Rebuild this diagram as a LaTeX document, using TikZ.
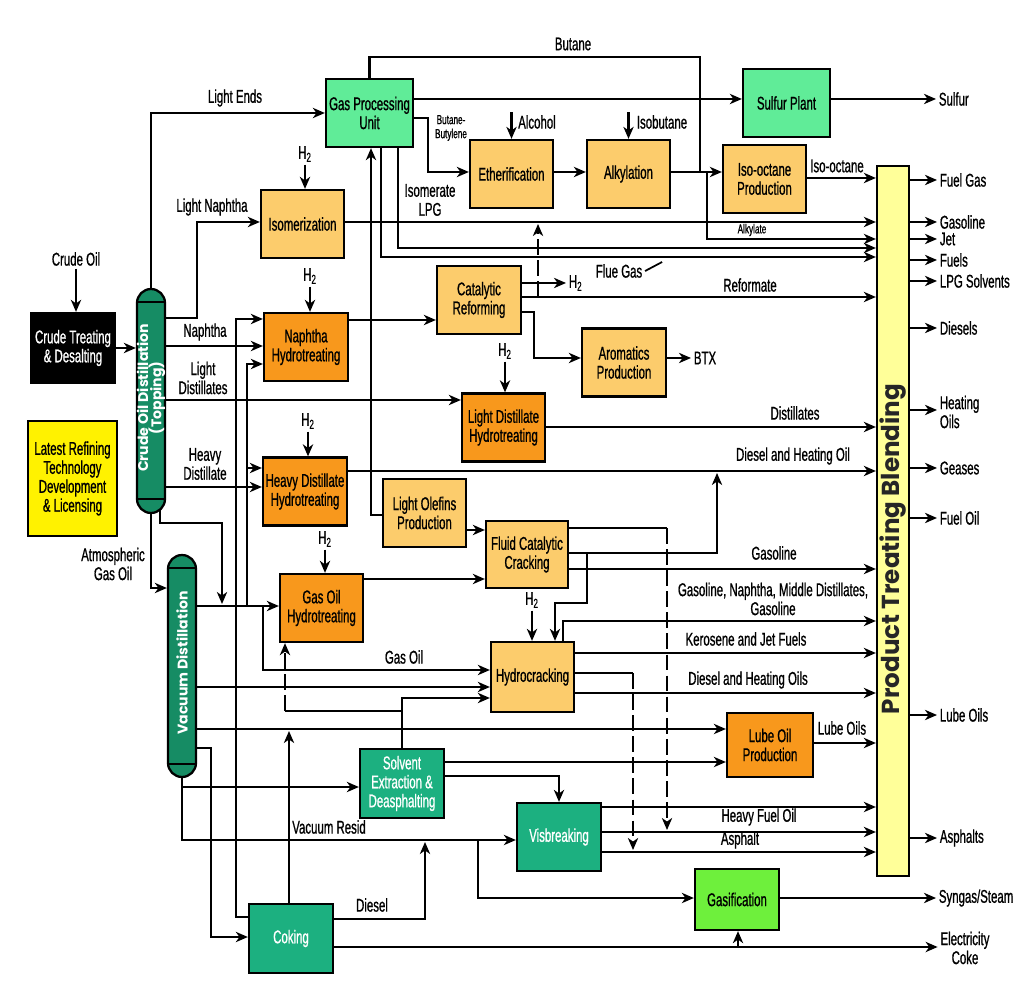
\documentclass[tikz,border=0pt]{standalone}
\usepackage{fontspec}
\setmainfont{Liberation Sans}[FakeStretch=0.62,FakeBold=0.8]
\newfontfamily\geofont{Poppins}
\usepackage{tikz}
\usetikzlibrary{arrows,arrows.meta,positioning}

\definecolor{gasgreen}{RGB}{96,236,152}
\definecolor{liteorange}{RGB}{252,204,108}
\definecolor{darkorange}{RGB}{248,152,28}
\definecolor{unitgreen}{RGB}{28,176,128}
\definecolor{colgreen}{RGB}{22,140,100}
\definecolor{gasifgreen}{RGB}{110,240,60}
\definecolor{blendyellow}{RGB}{255,255,153}

\tikzset{
	unit/.style={draw=black,line width=1.3pt,rectangle,minimum width=1.68cm,minimum height=1.36cm,inner sep=1pt,align=center,font=\fontsize{10.5}{10.8}\selectfont},
	liteunit/.style={unit,fill=liteorange},
	darkunit/.style={unit,fill=darkorange},
	gasunit/.style={unit,fill=gasgreen},
	greenunit/.style={unit,fill=unitgreen,text=white},
	column/.style={draw=black,line width=1.3pt,fill=colgreen,rounded corners=0.28cm,minimum width=0.56cm,inner sep=0pt},
	coltext/.style={rotate=90,text=white,align=center,font=\geofont\bfseries\fontsize{8}{7.5}\selectfont},
	lbl/.style={inner sep=1pt,align=center,font=\fontsize{10.5}{10.8}\selectfont},
	tinylbl/.style={inner sep=0pt,align=center,font=\fontsize{7.5}{8}\selectfont},
	outlbl/.style={lbl,anchor=west,align=left},
	flowdash/.style={dash pattern=on 9pt off 3pt}
}

\begin{document}
\begin{tikzpicture}[->,>={Stealth[length=6.8pt,width=5.8pt,inset=2pt]},line width=1.3pt,x=0.02cm,y=-0.02cm]
	\fill[white] (0,0) rectangle (1020,999);

	% columns and blending
	\node[column,minimum height=4.48cm]		(ccol)		at (151,401)		{};
	\node[column,minimum height=4.44cm]		(vcol)		at (182,666)		{};
	\node[draw=black,line width=1.3pt,fill=blendyellow,minimum width=0.64cm,minimum height=14.2cm,inner sep=0pt]	(ptb)	at (893,521)	{};
	\draw[-] (ccol.west |- 0,302) -- (ccol.east |- 0,302);
	\draw[-] (ccol.west |- 0,499) -- (ccol.east |- 0,499);
	\draw[-] (vcol.west |- 0,568) -- (vcol.east |- 0,568);
	\draw[-] (vcol.west |- 0,764) -- (vcol.east |- 0,764);
	\node[coltext]							(ccoltext)	at (151,398)		{Crude Oil Distillation\\(Topping)};
	\node[coltext]							(vcoltext)	at (182,663)		{Vacuum Distillation};
	\node[rotate=90,text=black!85,font=\geofont\bfseries\fontsize{14}{14}\selectfont]	(ptbtext)	at (893,549)	{Product Treating Blending};

	% process units
	\node[unit,fill=black,text=white,minimum height=1.40cm]		(crude)		at (73,348)		{Crude Treating\\\& Desalting};
	\node[unit,fill=yellow,minimum width=1.78cm,minimum height=2.30cm]	(lic)	at (72.5,478.5)	{Latest Refining\\Technology\\Development\\\& Licensing};
	\node[gasunit,minimum width=1.74cm]		(gpu)		at (369.5,113)		{Gas Processing\\Unit};
	\node[gasunit,minimum width=1.74cm]		(sulfur)	at (786.5,103)		{Sulfur Plant};
	\node[liteunit,minimum width=1.66cm]	(ether)		at (511.5,174)		{Etherification};
	\node[liteunit,minimum width=1.66cm]	(alky)		at (628.5,174)		{Alkylation};
	\node[liteunit,minimum width=1.66cm]	(isooct)	at (764.5,179)		{Iso-octane\\Production};
	\node[liteunit,minimum width=1.66cm]	(isom)		at (302.5,224)		{Isomerization};
	\node[darkunit]							(nht)		at (306,347)		{Naphtha\\Hydrotreating};
	\node[liteunit]							(catref)	at (479,300)		{Catalytic\\Reforming};
	\node[liteunit]							(arom)		at (624,362.5)		{Aromatics\\Production};
	\node[darkunit,minimum width=1.66cm]	(ldh)		at (503.5,427.5)	{Light Distillate\\Hydrotreating};
	\node[darkunit]							(hdh)		at (305,491.5)		{Heavy Distillate\\Hydrotreating};
	\node[liteunit,minimum width=1.66cm]	(olef)		at (424.5,513)		{Light Olefins\\Production};
	\node[liteunit,minimum width=1.64cm,minimum height=1.34cm]	(fcc)	at (527,554.5)	{Fluid Catalytic\\Cracking};
	\node[darkunit,minimum width=1.66cm]	(goht)		at (321.5,608)		{Gas Oil\\Hydrotreating};
	\node[liteunit,minimum width=1.66cm,minimum height=1.40cm]	(hcr)	at (532.5,677)	{Hydrocracking};
	\node[darkunit,minimum width=1.72cm,minimum height=1.28cm]	(lube)	at (770,745)	{Lube Oil\\Production};
	\node[greenunit,minimum height=1.38cm]	(solv)		at (402,783.5)		{Solvent\\Extraction \&\\Deasphalting};
	\node[greenunit]						(visb)		at (559,837)		{Visbreaking};
	\node[unit,fill=gasifgreen,minimum height=1.22cm]	(gasif)	at (737,899.5)	{Gasification};
	\node[greenunit,minimum height=1.38cm]	(coking)	at (291,938.5)		{Coking};

	% stream labels
	\node[lbl]		(crudeoil)	at (76,259)		{Crude Oil};
	\node[lbl]		(lends)		at (235,98)		{Light Ends};
	\node[lbl]		(lnaph)		at (212,207)	{Light Naphtha};
	\node[lbl]		(naph)		at (205,332)	{Naphtha};
	\node[lbl]		(ldist)		at (203,378)	{Light\\Distillates};
	\node[lbl]		(hdist)		at (205,464)	{Heavy\\Distillate};
	\node[lbl]		(agoil)		at (113,564)	{Atmospheric\\Gas Oil};
	\node[lbl]		(butane)	at (573,44)		{Butane};
	\node[tinylbl]	(bubu)		at (451,128)	{Butane-\\Butylene};
	\node[lbl]		(alc)		at (537,122)	{Alcohol};
	\node[lbl]		(isob)		at (662,122)	{Isobutane};
	\node[lbl]		(isolpg)	at (430,200)	{Isomerate\\LPG};
	\node[tinylbl]	(alkyl)		at (752,230)	{Alkylate};
	\node[lbl]		(ioct)		at (837,166)	{Iso-octane};
	\node[lbl]		(flue)		at (619,271)	{Flue Gas};
	\node[lbl]		(reform)	at (750,285)	{Reformate};
	\node[lbl]		(dists)		at (795,413)	{Distillates};
	\node[lbl]		(dhoil)		at (793,456)	{Diesel and Heating Oil};
	\node[lbl]		(fccgas)	at (774,553)	{Gasoline};
	\node[lbl]		(hcgas)		at (773,599)	{Gasoline, Naphtha, Middle Distillates,\\Gasoline};
	\node[lbl]		(kero)		at (746,639)	{Kerosene and Jet Fuels};
	\node[lbl]		(dhoils)	at (748,680)	{Diesel and Heating Oils};
	\node[lbl]		(luboil)	at (842,728)	{Lube Oils};
	\node[lbl]		(hfo)		at (759,817)	{Heavy Fuel Oil};
	\node[lbl]		(asphl)		at (740,840)	{Asphalt};
	\node[lbl]		(gasoil)	at (404,657)	{Gas Oil};
	\node[lbl]		(vresid)	at (329,827)	{Vacuum Resid};
	\node[lbl]		(diesel)	at (372,905)	{Diesel};

	% hydrogen feeds
	\node[lbl]		(hisom)		at (305,154)	{H\textsubscript{2}};
	\node[lbl]		(hnht)		at (310,276)	{H\textsubscript{2}};
	\node[lbl]		(hldh)		at (505,351)	{H\textsubscript{2}};
	\node[lbl]		(hhdh)		at (308,421)	{H\textsubscript{2}};
	\node[lbl]		(hgoht)		at (325,539)	{H\textsubscript{2}};
	\node[lbl]		(hhcr)		at (532,600)	{H\textsubscript{2}};
	\node[outlbl]	(hcat)		at (566,283)	{H\textsubscript{2}};

	% products
	\node[outlbl]	(sulf)		at (936,99)		{Sulfur};
	\node[outlbl]	(btx)		at (691,358)	{BTX};
	\node[outlbl]	(ofgas)		at (937,180)	{Fuel Gas};
	\node[outlbl]	(ogaso)		at (937,222)	{Gasoline};
	\node[outlbl]	(ojet)		at (937,239)	{Jet};
	\node[outlbl]	(ofuels)	at (937,260)	{Fuels};
	\node[outlbl]	(olpg)		at (937,281)	{LPG Solvents};
	\node[outlbl]	(odies)		at (937,328)	{Diesels};
	\node[outlbl]	(oheat)		at (937,412)	{Heating\\Oils};
	\node[outlbl]	(ogeas)		at (937,468)	{Geases};
	\node[outlbl]	(ofoil)		at (937,518)	{Fuel Oil};
	\node[outlbl]	(olube)		at (937,715)	{Lube Oils};
	\node[outlbl]	(oasph)		at (937,838)	{Asphalts};
	\node[outlbl]	(osyn)		at (936,898)	{Syngas/Steam};
	\node[lbl]		(oelec)		at (965,948)	{Electricity\\Coke};

	% crude section
	\draw (crudeoil.south) -- (crudeoil.south |- crude.north);
	\draw (crude.east) -- (crude.east -| ccol.west);
	\draw (ccol.north) |- (gpu.west);
	\draw (ccol.east |- 0,318) -- (197,318) |- (isom.west |- 0,222);
	\draw (ccol.east |- 0,346) -- (nht.west |- 0,346);
	\draw (ccol.east |- 0,400) -- (ldh.west |- 0,400);
	\draw (ccol.east |- 0,487) -- (hdh.west |- 0,487);
	\draw (ccol.south) |- (vcol.west |- 0,588);
	\draw (160,509) |- (222,523) -- (222,604);

	% hydrogen
	\draw (hisom) -- (hisom |- isom.north);
	\draw (hnht) -- (hnht |- nht.north);
	\draw (hldh) -- (hldh |- ldh.north);
	\draw (hhdh) -- (hhdh |- hdh.north);
	\draw (hgoht) -- (hgoht |- goht.north);
	\draw (hhcr) -- (hhcr |- hcr.north);

	% gas plant
	\draw[-] (gpu.north) |- (700,57) -- (700,172);
	\draw (gpu.east |- 0,99) -- (sulfur.west |- 0,99);
	\draw (sulfur.east |- sulf) -- (sulf);
	\draw (gpu.east |- 0,118) -| (428,172) -- (ether.west |- 0,172);
	\draw (ether.north |- alc.north) -- (ether.north);
	\draw (alky.north |- isob.north) -- (alky.north);
	\draw (ether.east |- 0,172) -- (alky.west |- 0,172);
	\draw (alky.east |- 0,172) -- (isooct.west |- 0,172);
	\draw (707,172) |- (ptb.west |- 0,239);
	\draw (isooct.east |- 0,178) -- (ptb.west |- 0,178);
	\draw (isom.east |- 0,222) -- (ptb.west |- 0,222);
	\draw (gpu.south -| 398,0) |- (ptb.west |- 0,248);
	\draw (gpu.south -| 381,0) |- (ptb.west |- 0,257);
	\draw (olef.west |- 0,515) -| (gpu.south -| 371,0);
	\draw[-,line width=1pt] (flue.east) -- ++(17,-9);

	% naphtha and distillates
	\draw (coking.west |- 0,917) -| (236,319) -- (nht.west |- 0,319);
	\draw (247,606) |- (nht.west |- 0,364);
	\draw (247,468) -- (hdh.west |- 0,468);
	\draw (nht.east |- 0,320) -- (catref.west |- 0,320);
	\draw (catref.east |- hcat) -- (hcat);
	\draw (catref.east |- 0,297) -- (ptb.west |- 0,297);
	\draw (catref.east |- 0,312) -- (534,312) |- (arom.west |- 0,358);
	\draw[flowdash] (538,297) -- (538,224);
	\draw (arom.east |- btx) -- (btx);
	\draw (ldh.east |- 0,427) -- (ptb.west |- 0,427);
	\draw (hdh.east |- 0,471) -- (ptb.west |- 0,471);

	% vacuum section
	\draw (vcol.east |- 0,606) -- (goht.west |- 0,606);
	\draw (263,606) |- (hcr.west |- 0,670);
	\draw (vcol.east |- 0,687) -- (hcr.west |- 0,687);
	\draw (solv.north) |- (hcr.west |- 0,698);
	\draw[-] (solv.north |- 0,711) -- (285,711);
	\draw[flowdash] (285,711) -- (goht.south -| 285,0);
	\draw (coking.north -| 289,0) -- (289,731);
	\draw (vcol.east |- 0,729) -- (lube.west |- 0,729);
	\draw (solv.east |- 0,762) -- (lube.west |- 0,762);
	\draw (solv.east |- 0,776) -| (visb.north);
	\draw (vcol.south) |- (visb.west |- 0,840);
	\draw (vcol.south |- 0,787) -- (solv.west |- 0,787);
	\draw (vcol.east |- 0,748) -- (211,748) |- (coking.west |- 0,937);
	\draw (coking.east |- 0,919) -| (425,842);
	\draw (478,840) |- (gasif.west |- 0,898);
	\draw (coking.east |- 0,947) -- (oelec.west |- 0,947);
	\draw (738,947) -- (gasif.south -| 738,0);
	\draw (gasif.east |- osyn) -- (osyn);

	% cracking
	\draw (olef.east |- 0,530) -- (fcc.west |- 0,530);
	\draw (goht.east |- 0,579) -- (fcc.west |- 0,579);
	\draw[-] (fcc.east |- 0,528) -- (667,528);
	\draw[flowdash] (667,528) -- (667,830);
	\draw (fcc.east |- 0,553) -| (717,473);
	\draw (587,553) |- (555,603) -- (hcr.north -| 555,0);
	\draw (fcc.east |- 0,569) -- (ptb.west |- 0,569);
	\draw (hcr.north -| 563,0) |- (ptb.west |- 0,621);
	\draw (hcr.east |- 0,653) -- (ptb.west |- 0,653);
	\draw[-] (hcr.east |- 0,673) -- (633,673);
	\draw[flowdash] (633,673) -- (633,850);
	\draw (hcr.east |- 0,693) -- (ptb.west |- 0,693);
	\draw (lube.east |- 0,743) -- (ptb.west |- 0,743);
	\draw (visb.east |- 0,807) -- (ptb.west |- 0,807);
	\draw (visb.east |- 0,832) -- (ptb.west |- 0,832);
	\draw (visb.east |- 0,852) -- (ptb.west |- 0,852);

	% blended products
	\draw (ptb.east |- ofgas) -- (ofgas);
	\draw (ptb.east |- ogaso) -- (ogaso);
	\draw (ptb.east |- ojet) -- (ojet);
	\draw (ptb.east |- ofuels) -- (ofuels);
	\draw (ptb.east |- olpg) -- (olpg);
	\draw (ptb.east |- odies) -- (odies);
	\draw (ptb.east |- 0,410) -- (oheat.west |- 0,410);
	\draw (ptb.east |- ogeas) -- (ogeas);
	\draw (ptb.east |- ofoil) -- (ofoil);
	\draw (ptb.east |- olube) -- (olube);
	\draw (ptb.east |- oasph) -- (oasph);
\end{tikzpicture}
\end{document}
